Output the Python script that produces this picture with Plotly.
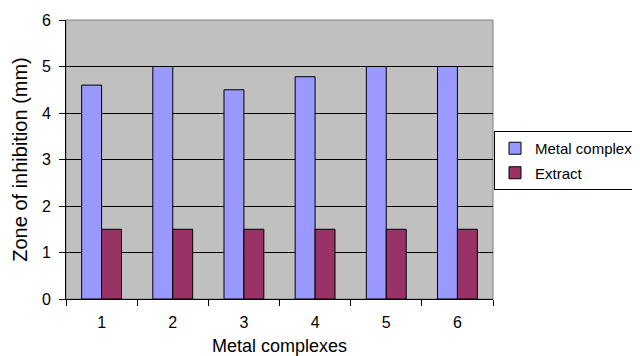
import plotly.graph_objects as go

categories = ["1", "2", "3", "4", "5", "6"]
metal_complex = [4.6, 5.0, 4.5, 4.78, 5.0, 5.0]
extract = [1.5, 1.5, 1.5, 1.5, 1.5, 1.5]
y_ticks = [0, 1, 2, 3, 4, 5, 6]

FONT = "Liberation Sans, Arial, sans-serif"

fig = go.Figure()
fig.add_trace(go.Bar(x=categories, y=metal_complex, name="Metal complex",
                     marker=dict(color="#9999FF", line=dict(color="#000000", width=1)),
                     legendgroup="a"))
fig.add_trace(go.Bar(x=categories, y=extract, name="Extract",
                     marker=dict(color="#993366", line=dict(color="#000000", width=1)),
                     legendgroup="b"))

fig.update_layout(
    width=640, height=356,
    margin=dict(l=58, r=155, t=12, b=65, autoexpand=False),
    paper_bgcolor="white",
    plot_bgcolor="#C0C0C0",
    barmode="group",
    bargap=0.44,
    bargroupgap=0,
    font=dict(family=FONT, size=16, color="#000000"),
    showlegend=True,
    legend=dict(
        xref="container", yref="container",
        x=486 / 640, y=1 - 123 / 356, xanchor="left", yanchor="top",
        bgcolor="white", bordercolor="#000000", borderwidth=1,
        font=dict(family=FONT, size=15, color="#000000"),
        traceorder="grouped", tracegroupgap=2,
        itemwidth=30,
    ),
    shapes=[dict(type="rect", xref="paper", yref="paper", x0=0, x1=1, y0=0, y1=1,
                 line=dict(color="#808080", width=1), layer="below")],
)

fig.update_xaxes(
    type="category",
    tickson="boundaries",
    ticks="outside", ticklen=6, tickcolor="#000000",
    ticklabelstandoff=9,
    showline=True, linecolor="#000000", linewidth=1,
    showgrid=False, automargin=False,
    title=dict(text="Metal complexes", font=dict(family=FONT, size=18), standoff=9),
    tickfont=dict(family=FONT, size=16),
)
fig.update_yaxes(
    range=[0, 6], tickvals=y_ticks,
    ticks="outside", ticklen=6, tickcolor="#000000",
    ticklabelstandoff=5,
    showline=True, linecolor="#000000", linewidth=1,
    showgrid=True, gridcolor="#000000", gridwidth=1,
    zeroline=False, automargin=False,
    title=dict(text="Zone of inhibition (mm)", font=dict(family=FONT, size=20), standoff=8),
    tickfont=dict(family=FONT, size=16),
)

fig.write_html("out.html")
